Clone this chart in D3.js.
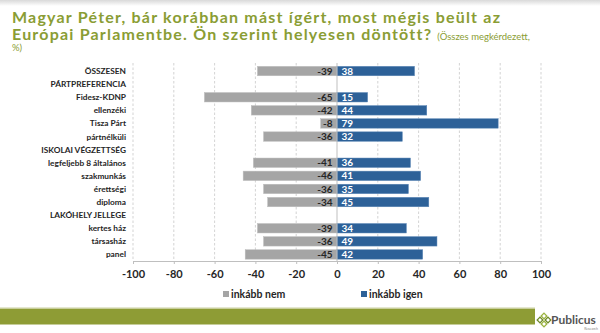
<!DOCTYPE html>
<html><head><meta charset="utf-8">
<script src="https://cdn.jsdelivr.net/npm/d3@7"></script>
<style>body{margin:0;background:#fff}svg{display:block}</style>
</head><body>
<svg id="c" width="600" height="333"></svg>
<script>
const categories = ["ÖSSZESEN","PÁRTPREFERENCIA","Fidesz-KDNP","ellenzéki","Tisza Párt","pártnélküli","ISKOLAI VÉGZETTSÉG","legfeljebb 8 általános","szakmunkás","érettségi","diploma","LAKÓHELY JELLEGE","kertes ház","társasház","panel"];
const inkabbNem = [-39,null,-65,-42,-8,-36,null,-41,-46,-36,-34,null,-39,-36,-45];
const inkabbIgen = [38,null,15,44,79,32,null,36,41,35,45,null,34,49,42];
const tickValues = [-100,-80,-60,-40,-20,0,20,40,60,80,100];
const seriesNames = ["inkább nem","inkább igen"];

const font = "Lato, 'Open Sans', sans-serif";
const svg = d3.select("#c");
const green = "#8a9d34";

// top shading strip
const defs = svg.append("defs");
const lg = defs.append("linearGradient").attr("id","topg").attr("x1",0).attr("y1",0).attr("x2",0).attr("y2",1);
lg.append("stop").attr("offset",0).attr("stop-color","#d9d9d9");
lg.append("stop").attr("offset",1).attr("stop-color","#ffffff");
svg.append("rect").attr("x",0).attr("y",0).attr("width",600).attr("height",6).attr("fill","url(#topg)");

// title
const TFS = 16;
const t1 = svg.append("text").attr("x",12).attr("y",23).attr("font-family",font).attr("font-weight",700).attr("font-size",TFS).attr("fill",green)
  .text("Magyar Péter, bár korábban mást ígért, most mégis beült az");
const l1 = t1.node().getComputedTextLength();
const ls = Math.max(0, Math.min(1.2, (493 - l1) / t1.text().length));
t1.attr("letter-spacing", ls);
const t2 = svg.append("text").attr("x",12).attr("y",39.5).attr("font-family",font).attr("font-weight",700).attr("font-size",TFS).attr("fill",green);
t2.append("tspan").attr("letter-spacing", ls).text("Európai Parlamentbe. Ön szerint helyesen döntött? ");
t2.append("tspan").attr("font-weight",400).attr("font-size",9.5).text("(Összes megkérdezett,");
svg.append("text").attr("x",12).attr("y",50.5).attr("font-family",font).attr("font-size",9.5).attr("fill",green).text("%)");

// scales
const x = d3.scaleLinear().domain([-100,100]).range([133,541]);
const y = d3.scaleBand().domain(categories).range([64.5,261]).paddingInner(0.28).paddingOuter(0.14);

// grid
svg.append("g").selectAll("line").data(tickValues.filter(d=>d!==0)).join("line")
  .attr("x1",d=>x(d)).attr("x2",d=>x(d)).attr("y1",63).attr("y2",261)
  .attr("stroke","#c8c8c8").attr("stroke-width",0.8).attr("stroke-dasharray","2.5,2");

// bars
const idx = d3.range(categories.length);
svg.append("g").selectAll("rect").data(idx.filter(i=>inkabbNem[i]!=null)).join("rect")
  .attr("x",i=>x(inkabbNem[i])).attr("width",i=>x(0)-x(inkabbNem[i]))
  .attr("y",i=>y(categories[i])).attr("height",y.bandwidth())
  .attr("fill","#a5a5a5").attr("stroke","#bdbdbd").attr("stroke-width",0.5);
svg.append("g").selectAll("rect").data(idx.filter(i=>inkabbIgen[i]!=null)).join("rect")
  .attr("x",x(0)).attr("width",i=>x(inkabbIgen[i])-x(0))
  .attr("y",i=>y(categories[i])).attr("height",y.bandwidth())
  .attr("fill","#2d6198").attr("stroke","#5b86b5").attr("stroke-width",0.5);

// zero line
svg.append("line").attr("x1",x(0)).attr("x2",x(0)).attr("y1",63).attr("y2",261).attr("stroke","#bfbfbf").attr("stroke-width",1);

// value labels
svg.append("g").selectAll("text").data(idx.filter(i=>inkabbNem[i]!=null)).join("text")
  .attr("x",x(0)-4.5).attr("y",i=>y(categories[i])+y.bandwidth()/2).attr("dy","0.36em")
  .attr("text-anchor","end").attr("font-family",font).attr("font-weight",700).attr("font-size",10).attr("fill","#262626")
  .text(i=>inkabbNem[i]);
svg.append("g").selectAll("text").data(idx.filter(i=>inkabbIgen[i]!=null)).join("text")
  .attr("x",x(0)+4.5).attr("y",i=>y(categories[i])+y.bandwidth()/2).attr("dy","0.36em")
  .attr("font-family",font).attr("font-weight",700).attr("font-size",10).attr("fill","#ffffff")
  .text(i=>inkabbIgen[i]);

// category labels
svg.append("g").selectAll("text").data(categories).join("text")
  .attr("x",126).attr("y",d=>y(d)+y.bandwidth()/2).attr("dy","0.36em")
  .attr("text-anchor","end").attr("font-family",font).attr("font-weight",700).attr("font-size",8.3).attr("fill","#262626")
  .text(d=>d);

// x axis
const ax = svg.append("g").attr("transform","translate(0,261)")
  .call(d3.axisBottom(x).tickValues(tickValues).tickFormat(d=>String(d)).tickSize(3).tickPadding(6));
ax.select(".domain").attr("stroke","#bfbfbf");
ax.selectAll(".tick line").attr("stroke","#bfbfbf");
ax.selectAll(".tick text").attr("font-family",font).attr("font-weight",700).attr("font-size",11).attr("fill","#262626");

// legend
const leg = [{n:seriesNames[0],c:"#a5a5a5",x:223},{n:seriesNames[1],c:"#2d6198",x:361}];
const lgG = svg.append("g").selectAll("g").data(leg).join("g").attr("transform",d=>`translate(${d.x},294)`);
lgG.append("rect").attr("x",0).attr("y",-3).attr("width",6).attr("height",6).attr("fill",d=>d.c);
lgG.append("text").attr("x",8).attr("y",0).attr("dy","0.36em").attr("font-family",font).attr("font-weight",700).attr("font-size",10.5).attr("fill","#262626").text(d=>d.n);

// footer
svg.append("rect").attr("x",0).attr("y",308.5).attr("width",535).attr("height",16).attr("fill","#8e9c35");
svg.append("line").attr("x1",0).attr("x2",535).attr("y1",308).attr("y2",308).attr("stroke","#c9cf9e").attr("stroke-width",1);
// logo
const lgo = svg.append("g").attr("transform","translate(544,320)");
[[0,-4],[4,0],[0,4],[-4,0]].forEach((p,k)=>{
  lgo.append("rect").attr("x",p[0]-2).attr("y",p[1]-2).attr("width",4).attr("height",4)
    .attr("transform",`rotate(45 ${p[0]} ${p[1]})`)
    .attr("fill","none").attr("stroke",k%2?"#6f8a2a":"#9bb340").attr("stroke-width",1.3);
});
svg.append("text").attr("x",551).attr("y",324).attr("font-family",font).attr("font-weight",700).attr("font-size",12).attr("fill","#555").text("Publicus");
svg.append("text").attr("x",598).attr("y",330).attr("text-anchor","end").attr("font-family",font).attr("font-size",3.5).attr("fill","#888").text("Research");
</script>
</body></html>
